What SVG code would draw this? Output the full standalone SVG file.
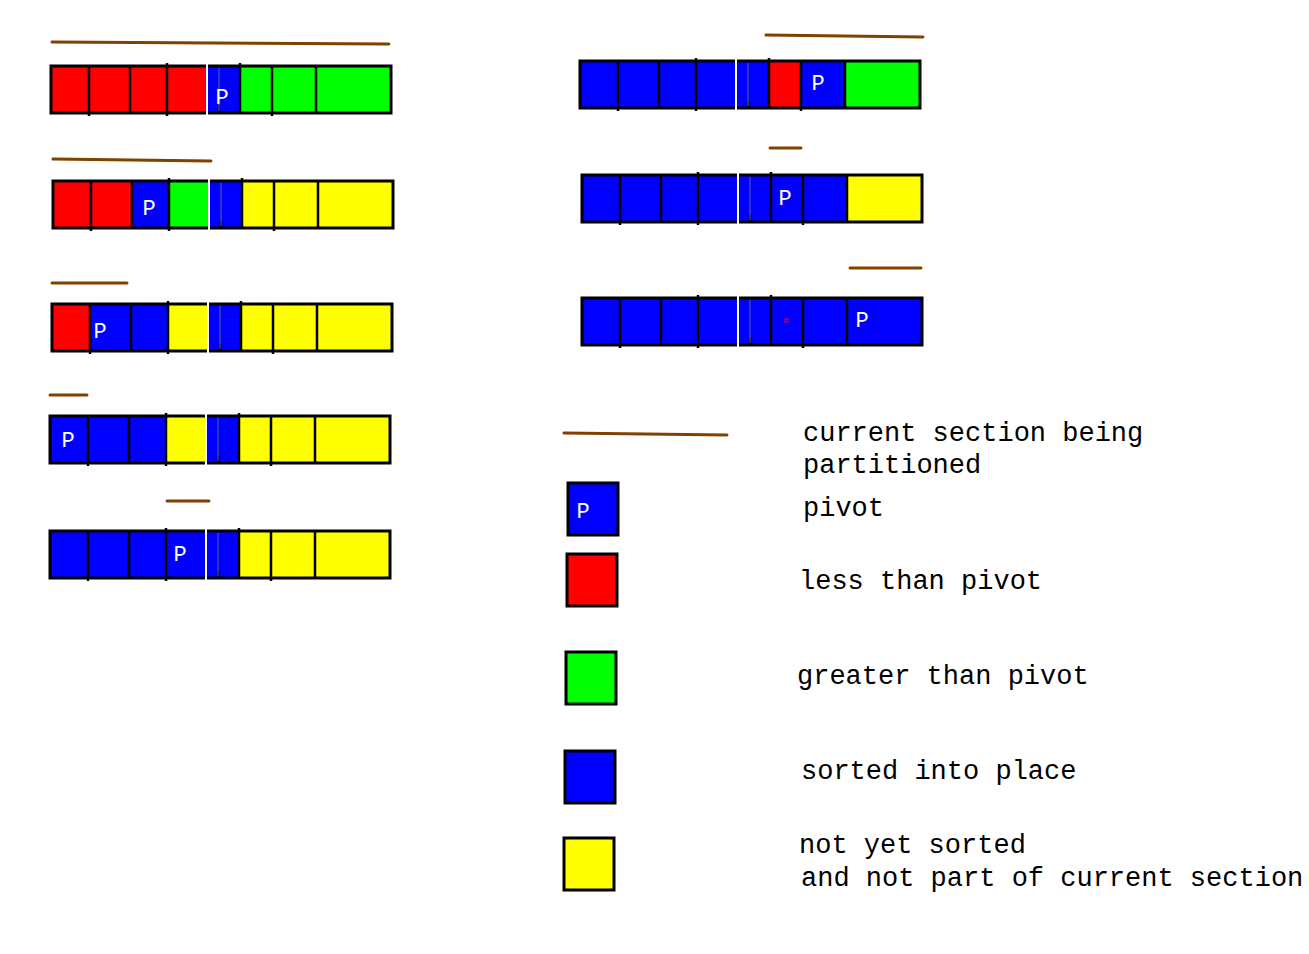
<svg xmlns="http://www.w3.org/2000/svg" xmlns:xlink="http://www.w3.org/1999/xlink" width="1309" height="954" viewBox="0 0 1309 954">
<style>
.r{fill:#ff0000;stroke:#808080;stroke-width:1}
.g{fill:#00ff00;stroke:#808080;stroke-width:1}
.b{fill:#0000ff;stroke:#808080;stroke-width:1}
.y{fill:#ffff00;stroke:#808080;stroke-width:1}
.br{stroke:#804000;stroke-width:3;stroke-linecap:round;fill:none}
.p{font-family:"Liberation Mono",monospace;font-size:22px;fill:#ffffff;text-anchor:middle}
.t{font-family:"Liberation Mono",monospace;font-size:27px;fill:#000000}
.lg{stroke:#000000;stroke-width:3}
</style>
<defs>
<g id="frame">
<rect x="0" y="0" width="340" height="47" fill="none" stroke="#000" stroke-width="3"/>
<g stroke="#000" stroke-width="2.5">
<line x1="38" y1="0" x2="38" y2="50"/>
<line x1="79" y1="0" x2="79" y2="47"/>
<line x1="116" y1="-3" x2="116" y2="50"/>
<line x1="189" y1="-3" x2="189" y2="47"/>
<line x1="221" y1="0" x2="221" y2="50"/>
<line x1="265" y1="0" x2="265" y2="47"/>
<line x1="168" y1="40" x2="168" y2="48"/>
</g>
<line x1="168" y1="2" x2="168" y2="45" stroke="#6060a0" stroke-width="1"/>
<line x1="156" y1="-2" x2="156" y2="49" stroke="#ffffff" stroke-width="2"/>
</g>
</defs>

<g id="row1">
<line class="br" x1="52" y1="42" x2="389" y2="44"/>
<g transform="translate(51,66)">
<rect class="r" x="0" y="0" width="38" height="47"/><rect class="r" x="38" y="0" width="41" height="47"/><rect class="r" x="79" y="0" width="37" height="47"/><rect class="r" x="116" y="0" width="40" height="47"/><rect class="b" x="156" y="0" width="33" height="47"/><rect class="g" x="189" y="0" width="32" height="47"/><rect class="g" x="221" y="0" width="44" height="47"/><rect class="g" x="265" y="0" width="75" height="47"/>
<use xlink:href="#frame"/>
</g>
<text class="p" x="222" y="104">P</text>
</g>

<g id="row2">
<line class="br" x1="53" y1="159" x2="211" y2="161"/>
<g transform="translate(53,181)">
<rect class="r" x="0" y="0" width="38" height="47"/><rect class="r" x="38" y="0" width="41" height="47"/><rect class="b" x="79" y="0" width="37" height="47"/><rect class="g" x="116" y="0" width="40" height="47"/><rect class="b" x="156" y="0" width="33" height="47"/><rect class="y" x="189" y="0" width="32" height="47"/><rect class="y" x="221" y="0" width="44" height="47"/><rect class="y" x="265" y="0" width="75" height="47"/>
<use xlink:href="#frame"/>
</g>
<text class="p" x="149" y="215">P</text>
</g>

<g id="row3">
<line class="br" x1="52" y1="283" x2="127" y2="283"/>
<g transform="translate(52,304)">
<rect class="r" x="0" y="0" width="38" height="47"/><rect class="b" x="38" y="0" width="41" height="47"/><rect class="b" x="79" y="0" width="37" height="47"/><rect class="y" x="116" y="0" width="40" height="47"/><rect class="b" x="156" y="0" width="33" height="47"/><rect class="y" x="189" y="0" width="32" height="47"/><rect class="y" x="221" y="0" width="44" height="47"/><rect class="y" x="265" y="0" width="75" height="47"/>
<use xlink:href="#frame"/>
</g>
<text class="p" x="100" y="338">P</text>
</g>

<g id="row4">
<line class="br" x1="50" y1="395" x2="87" y2="395"/>
<g transform="translate(50,416)">
<rect class="b" x="0" y="0" width="38" height="47"/><rect class="b" x="38" y="0" width="41" height="47"/><rect class="b" x="79" y="0" width="37" height="47"/><rect class="y" x="116" y="0" width="40" height="47"/><rect class="b" x="156" y="0" width="33" height="47"/><rect class="y" x="189" y="0" width="32" height="47"/><rect class="y" x="221" y="0" width="44" height="47"/><rect class="y" x="265" y="0" width="75" height="47"/>
<use xlink:href="#frame"/>
</g>
<text class="p" x="68" y="447">P</text>
</g>

<g id="row5">
<line class="br" x1="167" y1="501" x2="209" y2="501"/>
<g transform="translate(50,531)">
<rect class="b" x="0" y="0" width="38" height="47"/><rect class="b" x="38" y="0" width="41" height="47"/><rect class="b" x="79" y="0" width="37" height="47"/><rect class="b" x="116" y="0" width="40" height="47"/><rect class="b" x="156" y="0" width="33" height="47"/><rect class="y" x="189" y="0" width="32" height="47"/><rect class="y" x="221" y="0" width="44" height="47"/><rect class="y" x="265" y="0" width="75" height="47"/>
<use xlink:href="#frame"/>
</g>
<text class="p" x="180" y="561">P</text>
</g>

<g id="row6">
<line class="br" x1="766" y1="35" x2="923" y2="37"/>
<g transform="translate(580,61)">
<rect class="b" x="0" y="0" width="38" height="47"/><rect class="b" x="38" y="0" width="41" height="47"/><rect class="b" x="79" y="0" width="37" height="47"/><rect class="b" x="116" y="0" width="40" height="47"/><rect class="b" x="156" y="0" width="33" height="47"/><rect class="r" x="189" y="0" width="32" height="47"/><rect class="b" x="221" y="0" width="44" height="47"/><rect class="g" x="265" y="0" width="75" height="47"/>
<use xlink:href="#frame"/>
</g>
<text class="p" x="818" y="90">P</text>
</g>

<g id="row7">
<line class="br" x1="770" y1="148" x2="801" y2="148"/>
<g transform="translate(582,175)">
<rect class="b" x="0" y="0" width="38" height="47"/><rect class="b" x="38" y="0" width="41" height="47"/><rect class="b" x="79" y="0" width="37" height="47"/><rect class="b" x="116" y="0" width="40" height="47"/><rect class="b" x="156" y="0" width="33" height="47"/><rect class="b" x="189" y="0" width="32" height="47"/><rect class="b" x="221" y="0" width="44" height="47"/><rect class="y" x="265" y="0" width="75" height="47"/>
<use xlink:href="#frame"/>
</g>
<text class="p" x="785" y="205">P</text>
</g>

<g id="row8">
<line class="br" x1="850" y1="268" x2="921" y2="268"/>
<g transform="translate(582,298)">
<rect class="b" x="0" y="0" width="38" height="47"/><rect class="b" x="38" y="0" width="41" height="47"/><rect class="b" x="79" y="0" width="37" height="47"/><rect class="b" x="116" y="0" width="40" height="47"/><rect class="b" x="156" y="0" width="33" height="47"/><rect class="b" x="189" y="0" width="32" height="47"/><rect class="b" x="221" y="0" width="44" height="47"/><rect class="b" x="265" y="0" width="75" height="47"/>
<use xlink:href="#frame"/>
</g>
<rect x="785" y="319" width="3" height="3" fill="none" stroke="#ff0000" stroke-width="1"/>
<text class="p" x="862" y="327">P</text>
</g>

<g id="legend">
<g id="legend-section">
<line class="br" x1="564" y1="433" x2="727" y2="435"/>
<text class="t" x="803" y="441">current section being</text>
<text class="t" x="803" y="473">partitioned</text>
</g>
<g id="legend-pivot">
<rect class="b" x="568" y="483" width="50" height="52"/>
<rect x="568" y="483" width="50" height="52" fill="none" class="lg"/>
<text class="p" x="583" y="518">P</text>
<text class="t" x="803" y="516">pivot</text>
</g>
<g id="legend-less">
<rect class="r" x="567" y="554" width="50" height="52"/>
<rect x="567" y="554" width="50" height="52" fill="none" class="lg"/>
<text class="t" x="799" y="589">less than pivot</text>
</g>
<g id="legend-greater">
<rect class="g" x="566" y="652" width="50" height="52"/>
<rect x="566" y="652" width="50" height="52" fill="none" class="lg"/>
<text class="t" x="797" y="684">greater than pivot</text>
</g>
<g id="legend-sorted">
<rect class="b" x="565" y="751" width="50" height="52"/>
<rect x="565" y="751" width="50" height="52" fill="none" class="lg"/>
<text class="t" x="801" y="779">sorted into place</text>
</g>
<g id="legend-notyet">
<rect class="y" x="564" y="838" width="50" height="52"/>
<rect x="564" y="838" width="50" height="52" fill="none" class="lg"/>
<text class="t" x="799" y="853">not yet sorted</text>
<text class="t" x="801" y="886">and not part of current section</text>
</g>
</g>
</svg>
